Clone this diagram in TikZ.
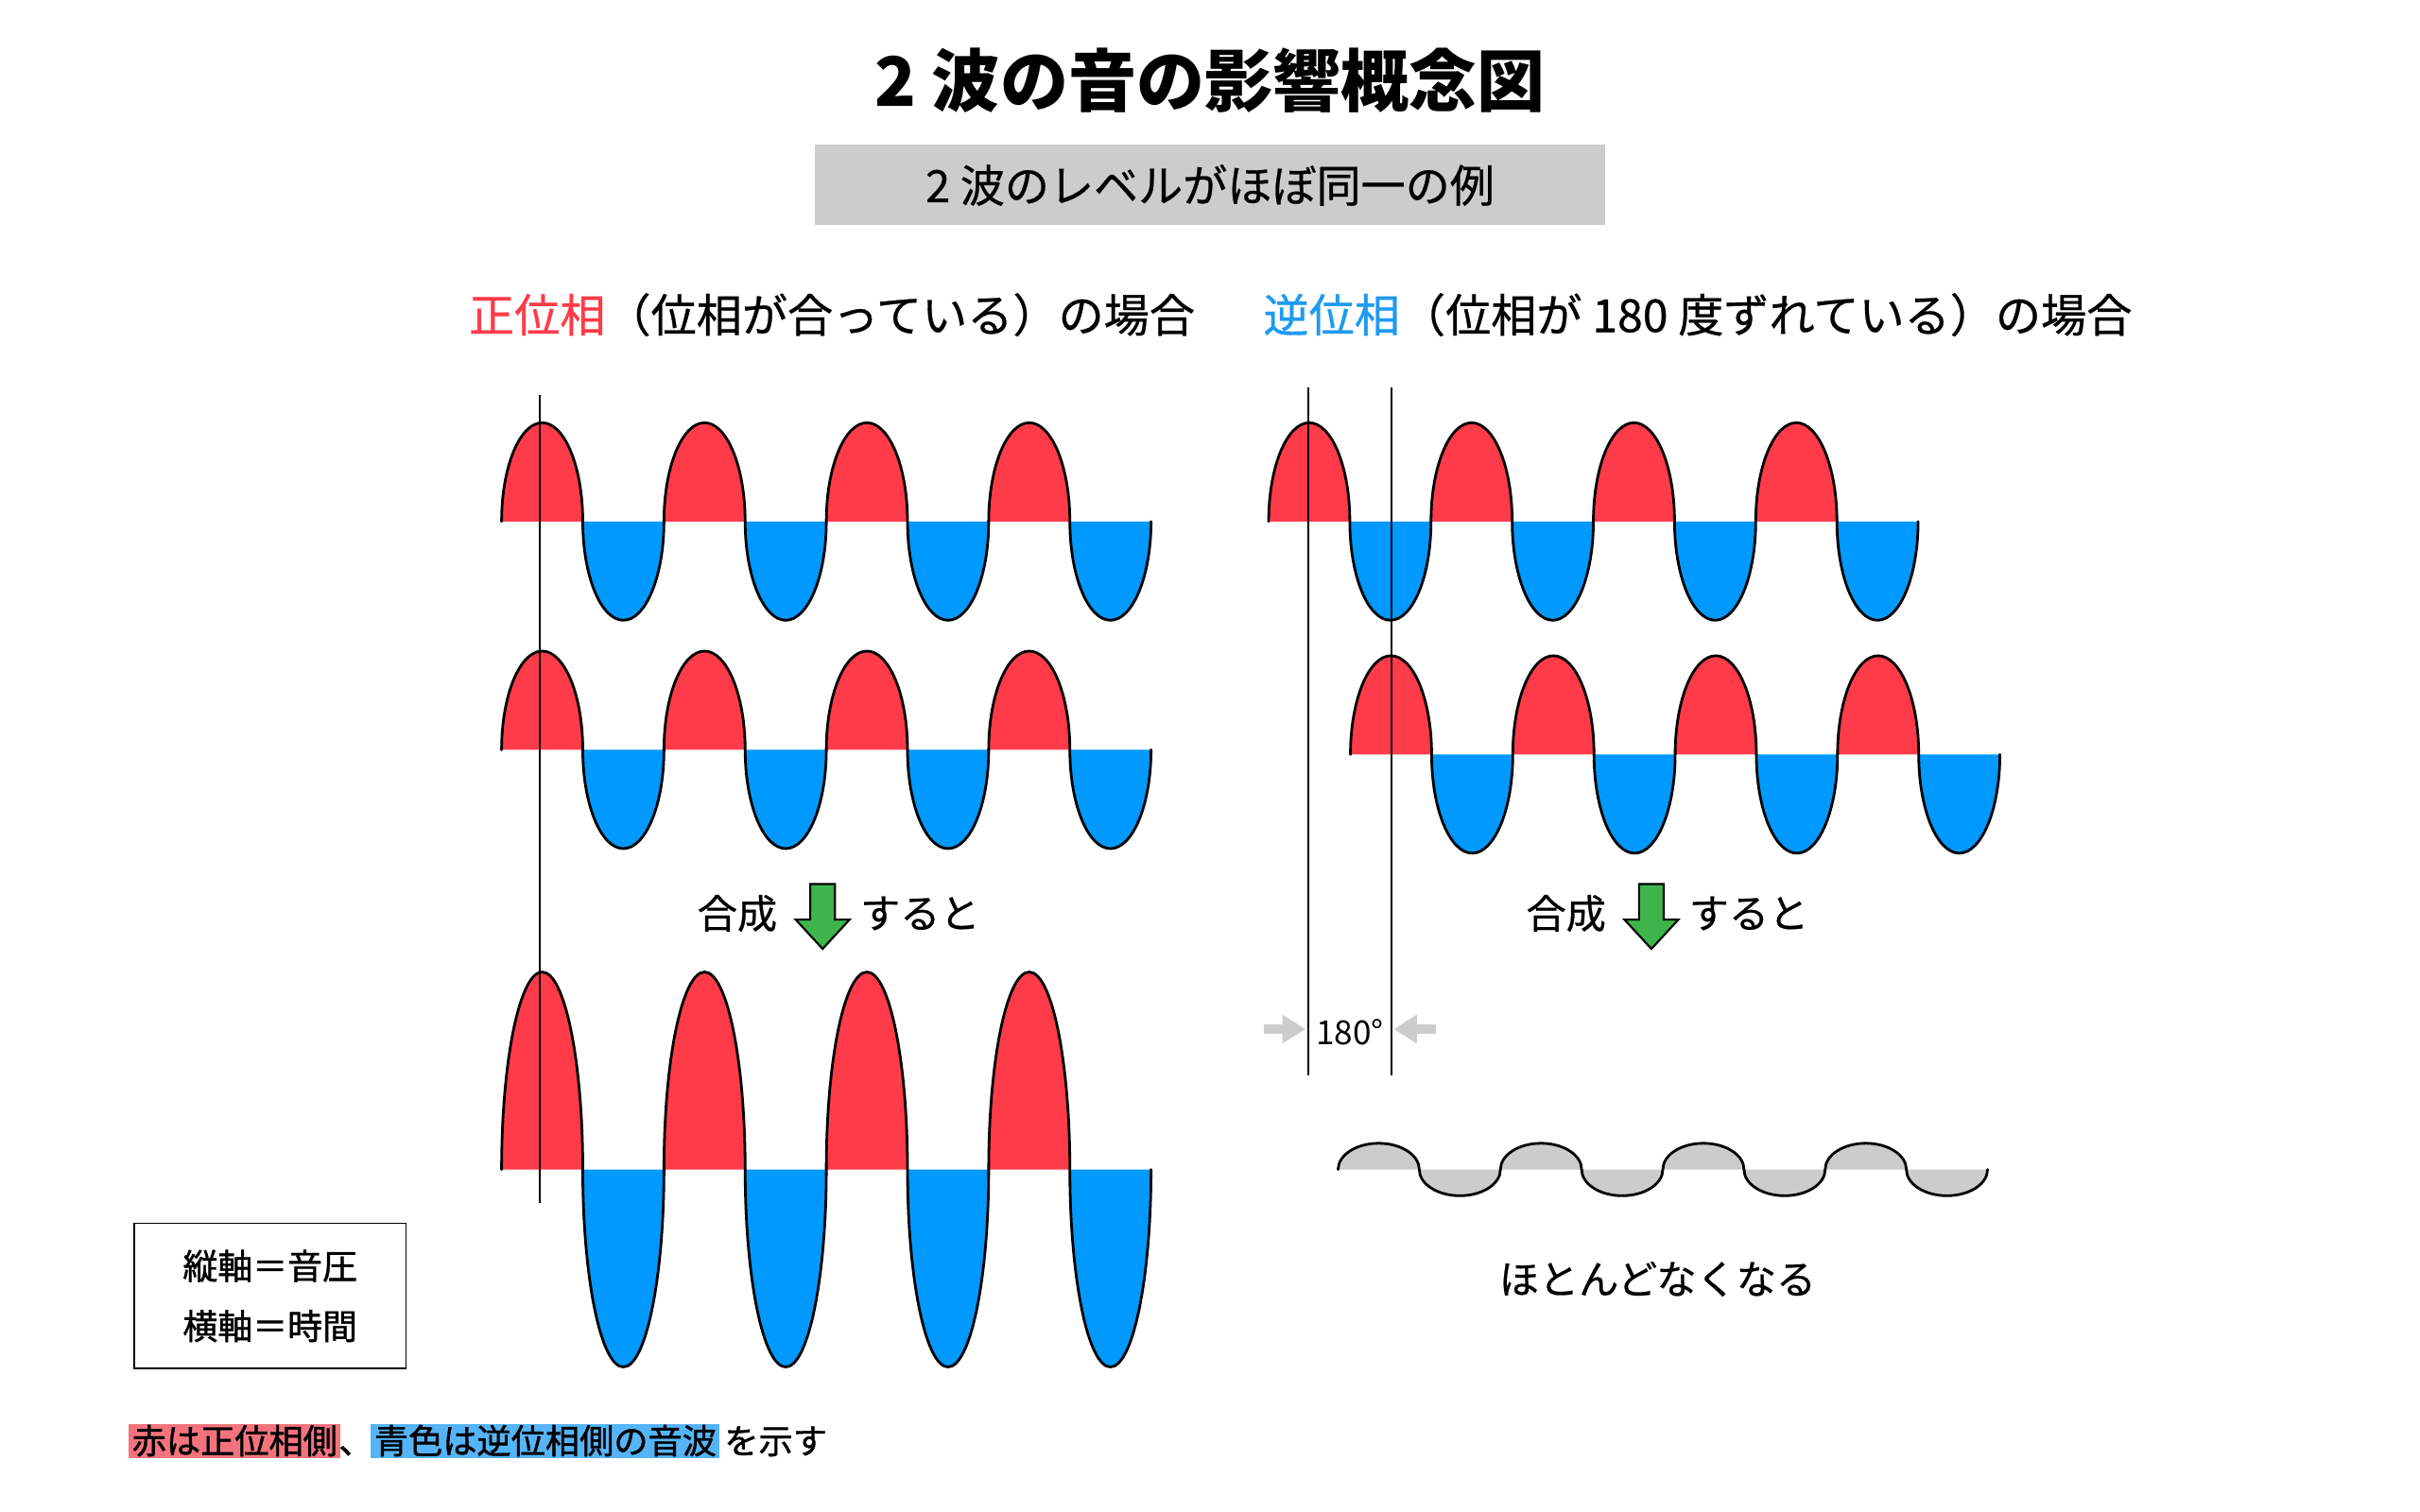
\documentclass[tikz,border=0pt]{standalone}
\usepackage{fontspec}
\setmainfont{Noto Sans CJK JP}
\newfontfamily\jpmed{Noto Sans CJK JP}[FakeBold=0.6]
\newfontfamily\jpheavy{Noto Sans CJK JP}[FakeBold=1.2]
\usetikzlibrary{arrows.meta,calc,positioning}
\definecolor{wavred}{HTML}{FF3B4A}
\definecolor{wavblue}{HTML}{0099FF}
\definecolor{headblue}{HTML}{1E9BF0}
\definecolor{boxgray}{HTML}{CCCCCC}
\definecolor{arrowgreen}{HTML}{3DB54A}
\definecolor{notered}{HTML}{F2737E}
\definecolor{noteblue}{HTML}{55B4F8}
\tikzset{
  titletext/.style={font=\fontsize{20.5}{24}\selectfont\bfseries,inner sep=0pt},
  subbox/.style={fill=boxgray,minimum width=8.36cm,minimum height=0.849cm,
    inner sep=0pt,font=\fontsize{13.4}{16}\selectfont\jpmed},
  headtext/.style={font=\fontsize{13.7}{16}\selectfont\jpmed,inner sep=0pt},
  midtext/.style={font=\fontsize{12}{14}\selectfont\jpmed,inner sep=0pt},
  degtext/.style={font=\fontsize{10}{12}\selectfont,inner sep=0pt},
  waveline/.style={draw=black,line width=0.8pt,line cap=round},
  markline/.style={draw=black,line width=0.6pt},
  grayarrow/.style={draw=boxgray,line width=3pt,-{Triangle[length=7pt,width=8.2pt]}},
  greenarrow/.style={draw=black,fill=arrowgreen,line width=0.6pt,line join=miter},
  legendbox/.style={draw=black,line width=0.45pt,minimum width=2.874cm,
    minimum height=1.535cm,align=center,font=\fontsize{10.5}{18.1}\selectfont\jpheavy},
  notetext/.style={inner xsep=1pt,inner ysep=0.2pt,text height=0.88em,
    text depth=0.12em,font=\fontsize{10.3}{12}\selectfont\jpheavy},
  notebox/.style={notetext},
}
\begin{document}
\begin{tikzpicture}[x=0.016327cm,y=-0.016327cm]
  \path[use as bounding box] (0,0) rectangle (1568,980);
  % titles
  \node[titletext] (title) at (784,52) {2 波の音の影響概念図};
  \node[subbox] (sub) at (784,120) {2 波のレベルがほぼ同一の例};
  \node[headtext] (headL) at (539,204) {\textcolor{wavred}{正位相}（位相が合っている）の場合};
  \node[headtext] (headR) at (1100,204) {\textcolor{headblue}{逆位相}（位相が 180 度ずれている）の場合};
  % wave trains: start x / baseline / amplitude
  \foreach \wx/\wy/\wa in {325/338/64,325/486/64,325/758/128,822/338/64,875/489/64} {
    \foreach \k in {0,...,7} {
      \pgfmathsetmacro\hx{\wx+\k*52.6}
      \ifodd\k \def\hc{wavblue}\def\ea{0}\else \def\hc{wavred}\def\ea{360}\fi
      \path[fill=\hc] (\hx,\wy) arc[start angle=180,end angle=\ea,x radius=26.3,y radius=\wa] -- cycle;
    }
    \foreach \k in {0,...,7} {
      \pgfmathsetmacro\hx{\wx+\k*52.6}
      \ifodd\k \def\ea{0}\else \def\ea{360}\fi
      \draw[waveline] (\hx,\wy) arc[start angle=180,end angle=\ea,x radius=26.3,y radius=\wa];
    }
  }
  % what is left after mixing
  \foreach \k in {0,...,7} {
    \pgfmathsetmacro\hx{867+\k*52.6}
    \ifodd\k \def\ea{0}\else \def\ea{360}\fi
    \path[fill=boxgray] (\hx,758) arc[start angle=180,end angle=\ea,x radius=26.3,y radius=17] -- cycle;
    \draw[waveline] (\hx,758) arc[start angle=180,end angle=\ea,x radius=26.3,y radius=17];
  }
  % phase marks
  \coordinate (pL1) at (349.5,256); \coordinate (pL2) at (349.5,780);
  \coordinate (pR1) at (847.5,251); \coordinate (pR2) at (847.5,697);
  \coordinate (qR1) at (901.5,251); \coordinate (qR2) at (901.5,697);
  \draw[markline] (pL1) -- (pL2);
  \draw[markline] (pR1) -- (pR2);
  \draw[markline] (qR1) -- (qR2);
  \coordinate (aL1) at (819,667); \coordinate (aL2) at (846,667);
  \coordinate (aR1) at (930.5,667); \coordinate (aR2) at (903,667);
  \draw[grayarrow] (aL1) -- (aL2);
  \draw[grayarrow] (aR1) -- (aR2);
  \node[degtext] (deg) at (874.5,669) {180°};
  % mixing arrows
  \foreach \ax/\nm in {533/L,1070/R} {
    \coordinate (garr\nm) at (\ax,573);
    \draw[greenarrow,shift={(garr\nm)}] (-8,0) -- (8,0) -- (8,23) -- (17.5,23)
      -- (0,42) -- (-17.5,23) -- (-8,23) -- cycle;
    \node[midtext,anchor=east] (mix\nm) at (\ax-29,592) {合成};
    \node[midtext,anchor=west] (then\nm) at (\ax+24,592) {すると};
  }
  \node[midtext] (gone) at (1074,829) {ほとんどなくなる};
  % legend and note
  \node[legendbox] (legend) at (175,840) {縦軸＝音圧\\横軸＝時間};
  \node[notebox,fill=notered,anchor=west] (noteR) at (83,934) {赤は正位相側};
  \node[notetext,right=0pt of noteR,inner xsep=-1pt] (noteC) {、};
  \node[notebox,fill=noteblue,right=0pt of noteC] (noteB) {青色は逆位相側の音波};
  \node[notetext,right=0pt of noteB] (noteE) {を示す};
\end{tikzpicture}
\end{document}
